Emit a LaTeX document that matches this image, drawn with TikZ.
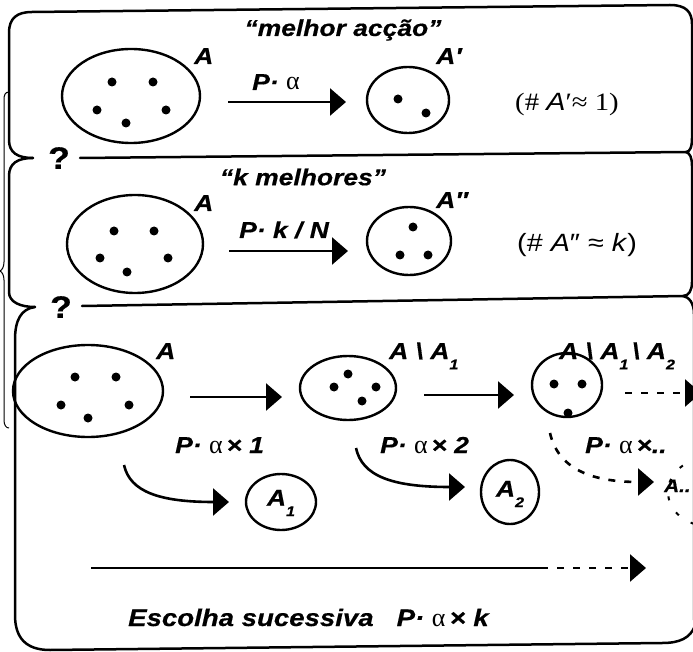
\documentclass[tikz,border=0pt]{standalone}
\usepackage{fontspec}
\setmainfont{Liberation Serif}
\newfontfamily\hv[FakeStretch=1.15,BoldItalicFeatures={FakeBold=0.5},BoldFeatures={FakeBold=0.5}]{Liberation Sans}
\newfontfamily\tms[FakeStretch=1.15]{Liberation Serif}
\usetikzlibrary{arrows.meta,shapes.geometric}
\newcommand\lsub[1]{\raisebox{-0.45em}{\fontsize{14}{14}\selectfont #1}}
\newcommand\alp{{\rmfamily\mdseries\upshape\fontsize{26}{26}\selectfont α}}
\begin{document}
\begin{tikzpicture}[x=1pt,y=-1pt,
  boxline/.style={line width=2.5pt,line cap=round,line join=round},
  setE/.style={draw,ellipse,line width=2.4pt,inner sep=0pt},
  dotf/.style={fill=black},
  arr/.style={line width=2.6pt,-{Triangle[length=16pt,width=27pt]}},
  darr/.style={line width=2.6pt,dash pattern=on 7pt off 9pt,-{Triangle[length=16pt,width=27pt]}},
  lab/.style={font=\hv\bfseries\itshape\fontsize{23}{25}\selectfont,inner sep=0pt},
  ttl/.style={font=\hv\bfseries\itshape\fontsize{23}{25}\selectfont,inner sep=0pt},
  qm/.style={font=\hv\bfseries\fontsize{31}{33}\selectfont,inner sep=0pt},
  card/.style={font=\fontsize{25}{27}\selectfont,inner sep=0pt}]
\useasboundingbox (0,0) rectangle (693,652);
\fill[white] (0,0) rectangle (693,652);
\clip (0,0) rectangle (693,652);

% ---- frames ----
\draw[boxline] (33,158) .. controls (18,158) and (9,153) .. (9,140) -- (9,33)
  .. controls (9,18) and (17,12) .. (32,12) -- (670,5)
  .. controls (686,5) and (692,12) .. (692,24) -- (692,138)
  .. controls (692,147) and (690,152) .. (686,152);
\draw[boxline] (80,158) -- (686,152);
\draw[boxline] (686,152) .. controls (690,153) and (692,158) .. (692,166) -- (692,282)
  .. controls (692,290) and (689,296) .. (683,296);
\draw[boxline] (33,158) .. controls (18,158) and (9,163) .. (9,176) -- (9,292)
  .. controls (9,302) and (20,307) .. (35,307);
\draw[boxline] (82,306) -- (683,296);
\draw[boxline] (683,296) .. controls (689,297) and (694,303) .. (694,314) -- (694,620);
\draw[boxline] (35,307) .. controls (21,309) and (15,320) .. (15,340) -- (15,615)
  .. controls (15,638) and (26,650) .. (50,650) -- (662,643)
  .. controls (680,643) and (690,638) .. (695,626);
% outer thin brace
\draw[line width=1pt] (9,92) .. controls (5,92) and (4,95) .. (4,100) -- (4,262)
  .. controls (4,267) and (2,270) .. (0,271) .. controls (2,272) and (4,275) .. (4,280)
  -- (4,420) .. controls (4,425) and (6,428) .. (9,428);
\node[qm] (q1) at (59,158) {?};
\node[qm] (q2) at (61,307) {?};

% ---- box 1 ----
\node[ttl] (t1) at (343,30) {“melhor acção”};
\node[setE,minimum width=138pt,minimum height=94pt] (s1) at (131,96) {};
\foreach \p in {(112,82),(153,82),(97,110),(166,110),(126,123)} \fill[dotf] \p circle[radius=4.5pt];
\node[lab,anchor=base west] (l1) at (194,64) {A};
\coordinate (a1s) at (228,102);
\coordinate (a1e) at (346,102);
\draw[arr] (a1s) -- (a1e);
\node[lab,anchor=base west] (p1) at (252,90) {P· \alp};
\node[setE,minimum width=82pt,minimum height=66pt] (r1) at (408,100) {};
\foreach \p in {(398,99),(426,113)} \fill[dotf] \p circle[radius=4.5pt];
\node[lab,anchor=base west] (l1p) at (436,64) {A′};
\node[card,anchor=base west] (c1) at (515,111) {\tms(\# {\hv\itshape A}′≈ 1)};

% ---- box 2 ----
\node[ttl] (t2) at (303,177) {“k melhores”};
\node[setE,minimum width=136pt,minimum height=98pt] (s2) at (135,244) {};
\foreach \p in {(114,231),(154,231),(100,258),(168,258),(127,272)} \fill[dotf] \p circle[radius=4.5pt];
\node[lab,anchor=base west] (l2) at (194,211) {A};
\coordinate (a2s) at (229,251);
\coordinate (a2e) at (348,251);
\draw[arr] (a2s) -- (a2e);
\node[lab,anchor=base west] (p2) at (239,238) {P· k / N};
\node[setE,minimum width=84pt,minimum height=68pt] (r2) at (409,241) {};
\foreach \p in {(413,227),(400,255),(428,255)} \fill[dotf] \p circle[radius=4.5pt];
\node[lab,anchor=base west] (l2p) at (436,208) {A″};
\node[card,anchor=base west] (c2) at (517,252) {\hv\mdseries\fontsize{25}{27}\selectfont (\# \textit{A}″ ≈ \textit{k})};

% ---- box 3 ----
\node[setE,minimum width=150pt,minimum height=92pt] (s3) at (88,391) {};
\foreach \p in {(75,377),(116,377),(61,405),(129,405),(88,418)} \fill[dotf] \p circle[radius=4.5pt];
\node[lab,anchor=base west] (l3) at (156,359) {A};
\coordinate (b1s) at (190,397);
\coordinate (b1e) at (282,397);
\draw[arr] (b1s) -- (b1e);
\node[setE,minimum width=96pt,minimum height=64pt] (s4) at (348,388) {};
\foreach \p in {(348,374),(334,387),(376,387),(362,401)} \fill[dotf] \p circle[radius=4.5pt];
\node[lab,anchor=base west] (l4) at (389,359) {A \textbackslash\ A\lsub{1}};
\coordinate (b2s) at (424,395);
\coordinate (b2e) at (514,395);
\draw[arr] (b2s) -- (b2e);
\node[setE,minimum width=70pt,minimum height=64pt] (s5) at (567,385) {};
\foreach \p in {(554,384),(582,384),(568,413)} \fill[dotf] \p circle[radius=4.5pt];
\node[lab,anchor=base west] (l5) at (559,359) {A \textbackslash\ A\lsub{1}\,\textbackslash\ A\lsub{2}};
\coordinate (b3s) at (625,393);
\coordinate (b3e) at (701,393);
\draw[darr] (b3s) -- (b3e);

\node[lab,anchor=base west] (m1) at (175,453) {P· \alp\,× 1};
\node[lab,anchor=base west] (m2) at (380,453) {P· \alp\,× 2};
\node[lab,anchor=base west] (m3) at (585,453) {P· \alp\,×..};

\coordinate (c1s) at (124,465);
\coordinate (c1e) at (229,502);
\draw[arr] (c1s) .. controls (130,492) and (160,502) .. (c1e);
\node[setE,minimum width=70pt,minimum height=56pt] (k1) at (281,502) {};
\node[lab] (k1t) at (281,503) {A\lsub{1}};
\coordinate (c2s) at (356,448);
\coordinate (c2e) at (465,487);
\draw[arr] (c2s) .. controls (362,476) and (392,487) .. (c2e);
\node[setE,minimum width=58pt,minimum height=64pt] (k2) at (510,492) {};
\node[lab] (k2t) at (510,494) {A\lsub{2}};
\coordinate (c3s) at (550,433);
\coordinate (c3e) at (654,482);
\draw[darr] (c3s) .. controls (558,468) and (590,482) .. (c3e);
\draw[line width=2pt,dash pattern=on 4pt off 14pt] (708,492) ellipse [x radius=40, y radius=34];
\node[lab,anchor=base west,font=\hv\bfseries\itshape\fontsize{18}{20}\selectfont] (k3t) at (664,492) {A..};

\coordinate (d1) at (91,568);
\coordinate (d2) at (541,568);
\coordinate (d3) at (646,568);
\draw[line width=2.6pt] (d1) -- (d2);
\draw[darr] (d2) -- (d3);
\node[font=\hv\bfseries\itshape\fontsize{24}{26}\selectfont,inner sep=0pt,anchor=base west] (esc) at (128,626) {Escolha sucessiva\ \ \ P· \alp\,× k};
\end{tikzpicture}
\end{document}
